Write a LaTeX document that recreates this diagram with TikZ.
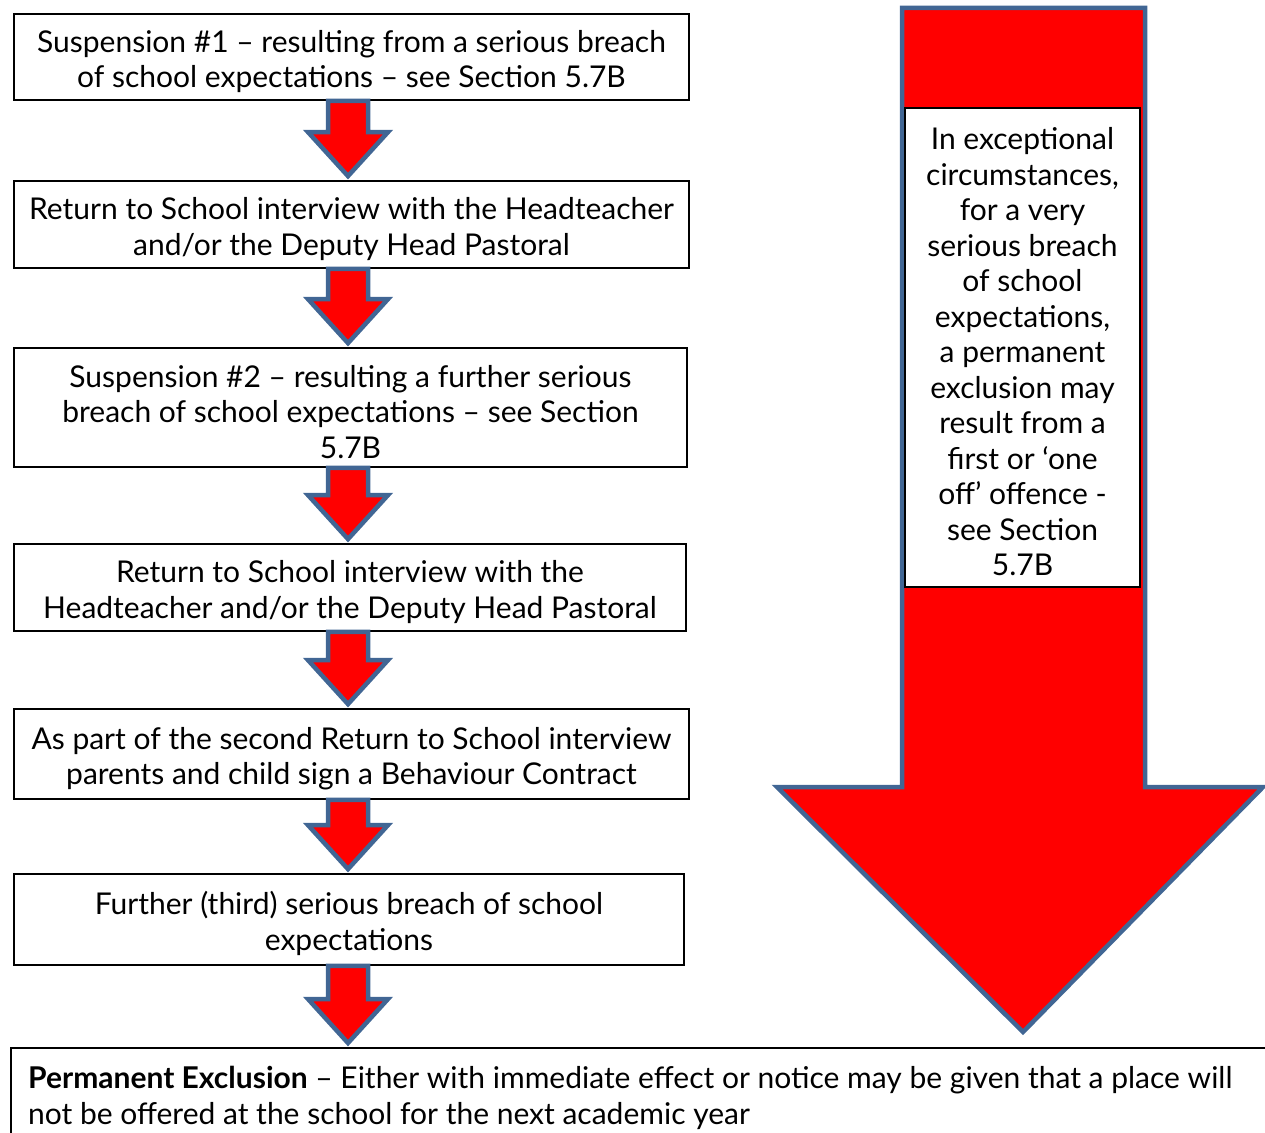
\documentclass[tikz,border=0pt]{standalone}
\usepackage{fontspec}
\setmainfont{Lato}
\usetikzlibrary{calc}
\definecolor{arrowblue}{RGB}{65,102,148}
\definecolor{arrowred}{RGB}{255,0,0}
\newcommand\tp{\rule{0pt}{31pt}}
\newcommand\flowarrow[2]{%
  \path (#1.south -| ax) coordinate (fa-t) (#2.north -| ax) coordinate (fa-b);
  \draw[blockarrow] ($(fa-t)+(-20,0)$) -- ($(fa-t)+(20,0)$) -- ($(fa-b)+(20,-48)$)
    -- ($(fa-b)+(40,-48)$) -- ($(fa-b)+(0,-4)$) -- ($(fa-b)+(-40,-48)$)
    -- ($(fa-b)+(-20,-48)$) -- cycle;}
\begin{document}
\begin{tikzpicture}[x=1pt,y=-1pt,
  txt/.style={font=\fontsize{30}{35.5}\selectfont},
  box/.style={txt, draw=black, line width=1.8pt, align=center, inner sep=0pt},
  blockarrow/.style={draw=arrowblue, fill=arrowred, line width=4.5pt, line join=miter}
]
\clip (0,0) rectangle (1265,1132);
\coordinate (ax) at (348,0);

\node[box, minimum width=675pt, minimum height=86pt] (b1) at (351.5,57)
  {\tp Suspension \#1 – resulting from a serious breach\\of school expectations – see Section 5.7B};
\node[box, minimum width=675pt, minimum height=87pt] (b2) at (351.5,224.5)
  {\tp Return to School interview with the Headteacher\\and/or the Deputy Head Pastoral};
\node[box, minimum width=673pt, minimum height=119pt] (b3) at (350.5,407.5)
  {\tp Suspension \#2 – resulting a further serious\\breach of school expectations – see Section\\5.7B};
\node[box, minimum width=672pt, minimum height=87pt] (b4) at (350,587.5)
  {\tp Return to School interview with the\\Headteacher and/or the Deputy Head Pastoral};
\node[box, minimum width=675pt, minimum height=90pt] (b5) at (351.5,754)
  {\tp As part of the second Return to School interview\\parents and child sign a Behaviour Contract};
\node[box, minimum width=670pt, minimum height=91pt] (b6) at (349,919.5)
  {\tp Further (third) serious breach of school\\expectations};
\node[draw=black, line width=1.8pt, minimum width=1270pt, minimum height=100pt,
  anchor=north west, inner sep=0pt] (b7) at (10,1047) {};
\node[txt, align=left, anchor=north west, inner sep=0pt] (b7t) at (28,1066)
  {\textbf{Permanent Exclusion} – Either with immediate effect or notice may be given that a place will\\not be offered at the school for the next academic year};

\flowarrow{b1}{b2}
\flowarrow{b2}{b3}
\flowarrow{b3}{b4}
\flowarrow{b4}{b5}
\flowarrow{b5}{b6}
\flowarrow{b6}{b7}

% big arrow
\draw[blockarrow] (902,8) -- (1145,8) -- (1145,787) -- (1263,787) -- (1023,1032)
  -- (777,787) -- (902,787) -- cycle;
\node[box, fill=white, minimum width=235pt, minimum height=479pt] (side) at (1022.5,347.5)
  {\tp In exceptional\\circumstances,\\for a very\\serious breach\\of school\\expectations,\\a permanent\\exclusion may\\result from a\\first or ‘one\\off’ offence -\\see Section\\5.7B};
\end{tikzpicture}
\end{document}
